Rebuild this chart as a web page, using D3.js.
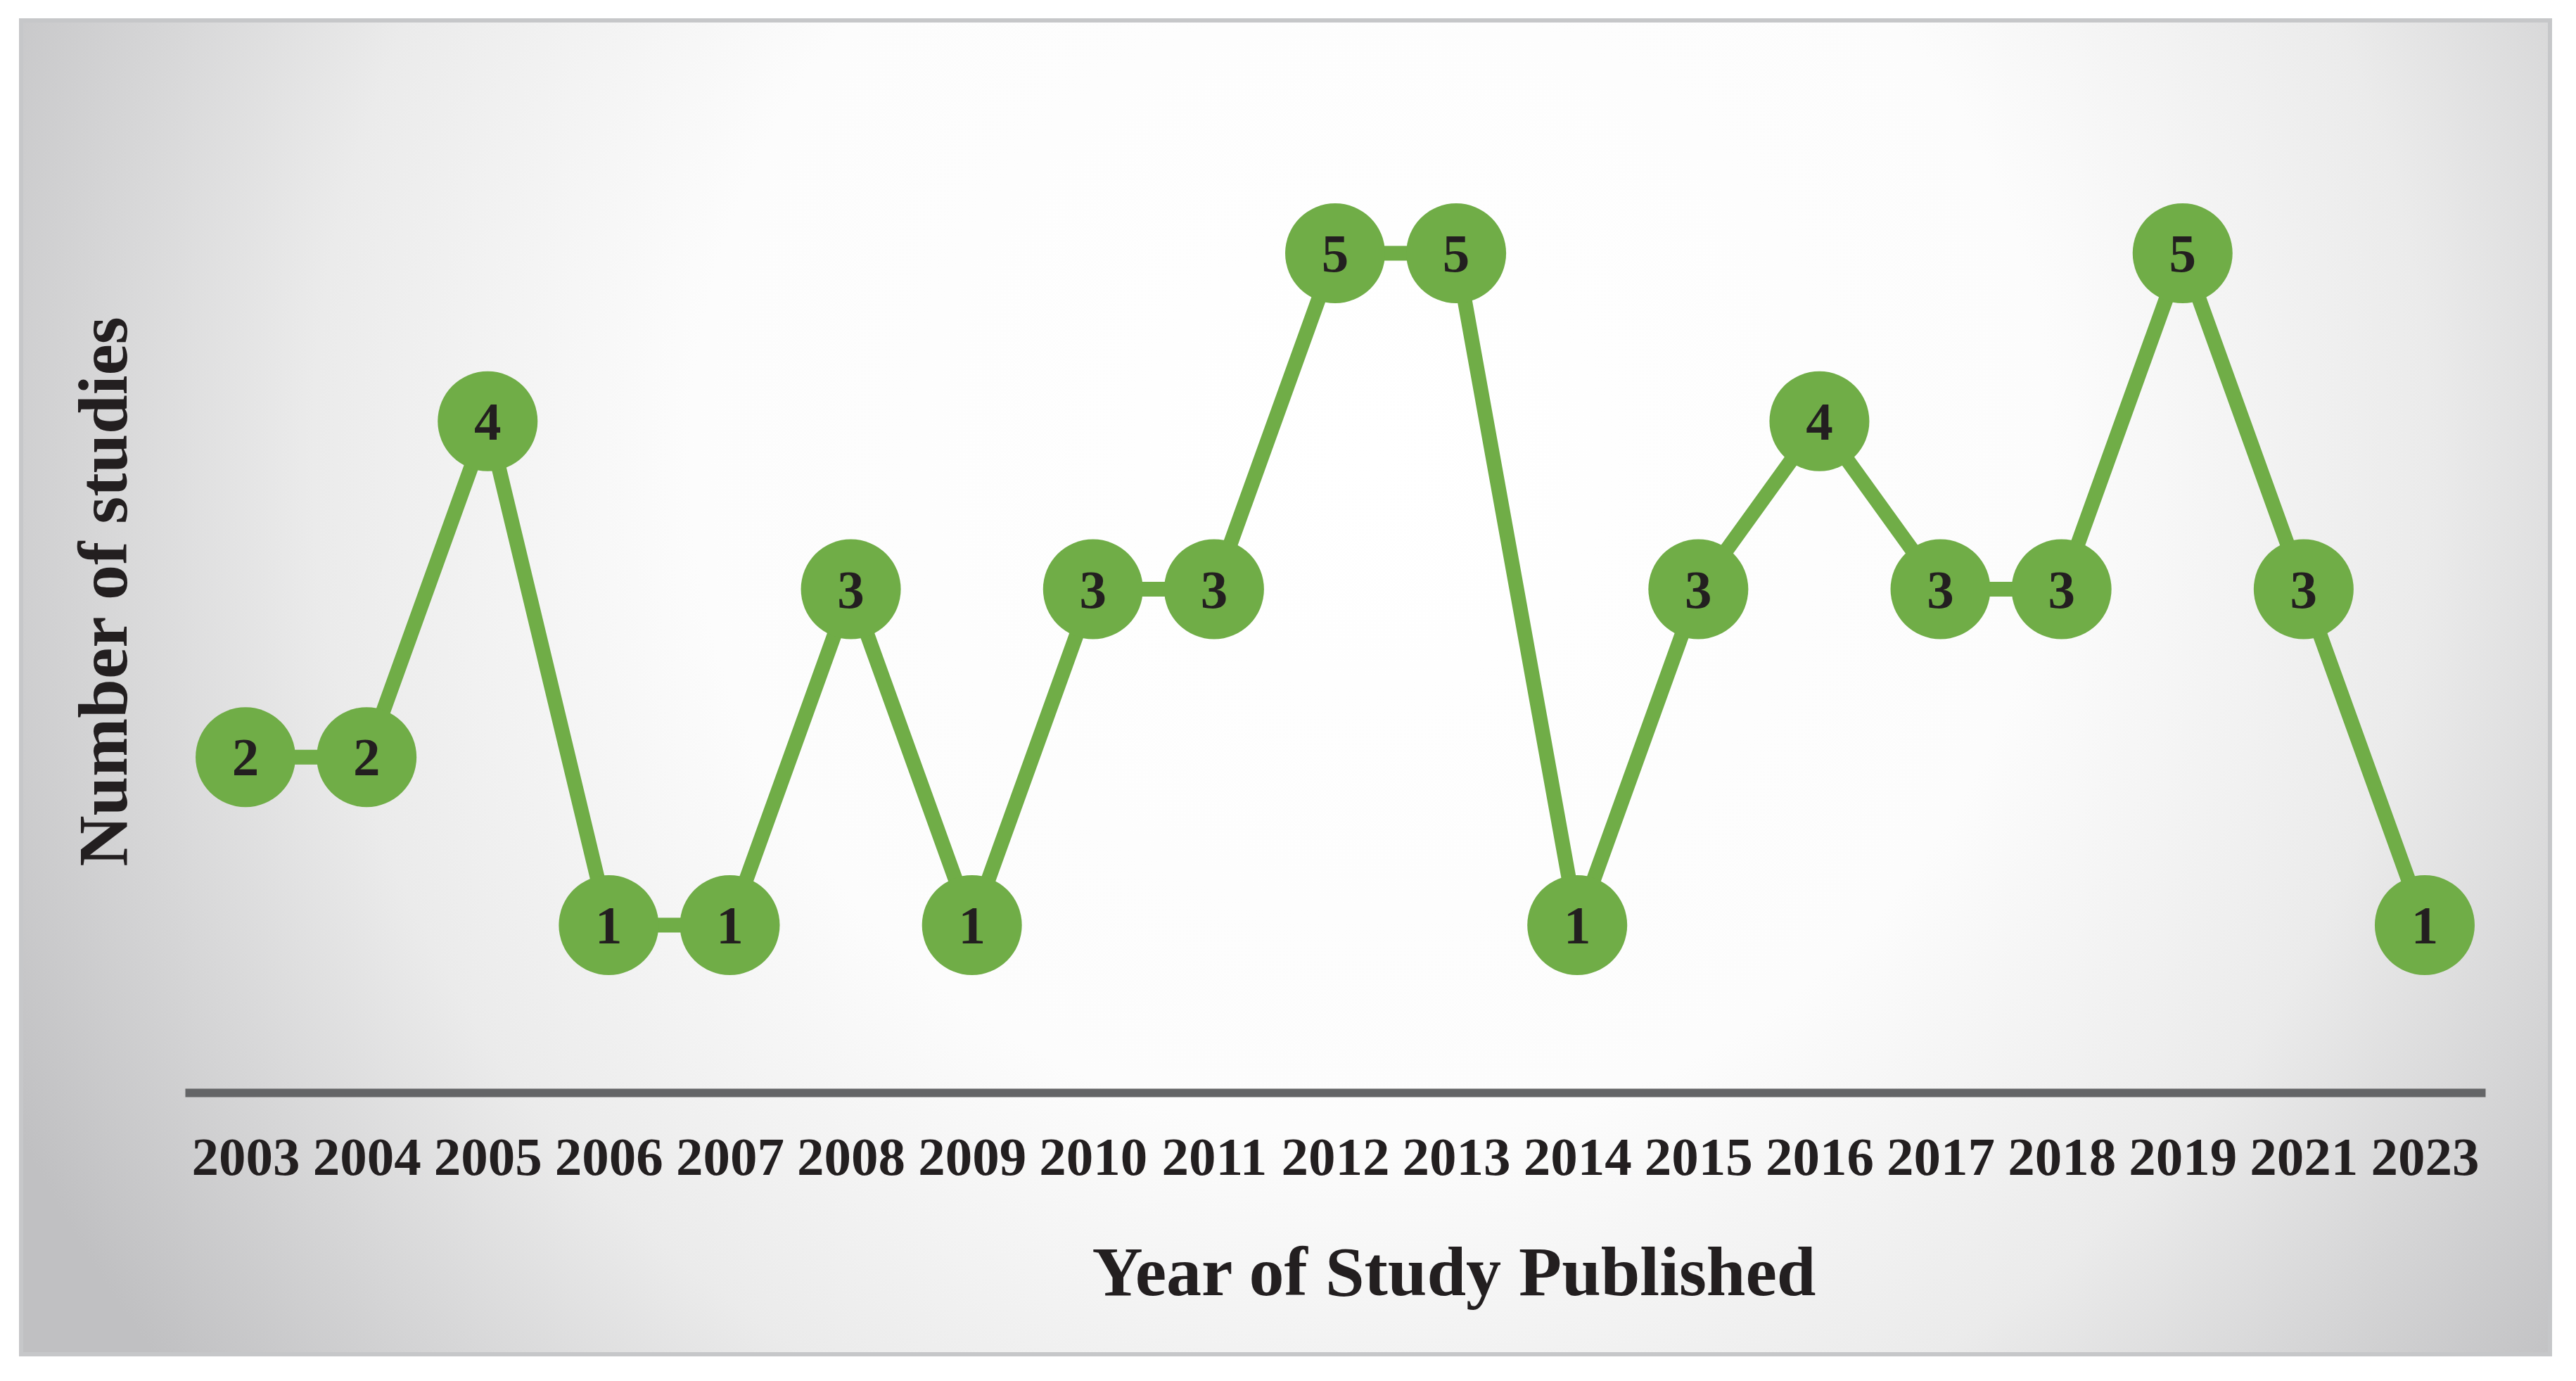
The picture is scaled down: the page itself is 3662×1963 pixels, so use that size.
<!DOCTYPE html>
<html>
<head>
<meta charset="utf-8">
<script src="https://cdn.jsdelivr.net/npm/d3@7"></script>
<style>
  body { margin: 0; background: #fff; }
  text { font-family: "Liberation Serif", "Times New Roman", serif; font-weight: bold; fill: #231f20; }
</style>
</head>
<body>
<div id="chart"></div>
<script>
// data
const years = ["2003","2004","2005","2006","2007","2008","2009","2010","2011","2012","2013","2014","2015","2016","2017","2018","2019","2021","2023"];
const counts = [2,2,4,1,1,3,1,3,3,5,5,1,3,4,3,3,5,3,1];
const xTitle = "Year of Study Published";
const yTitle = "Number of studies";

let width = 3662, height = 1963;
let green = "#70ad47";

let svg = d3.select("#chart")
  .append("svg")
    .attr("width", width)
    .attr("height", height);

// background: light radial gradient inside a grey frame
let grad = svg.append("defs").append("radialGradient")
  .attr("id", "bg")
  .attr("gradientUnits", "userSpaceOnUse")
  .attr("cx", 1950).attr("cy", 650).attr("r", 2150);
grad.append("stop").attr("offset", 0).attr("stop-color", "#ffffff");
grad.append("stop").attr("offset", 0.45).attr("stop-color", "#fcfcfc");
grad.append("stop").attr("offset", 0.7).attr("stop-color", "#ebebeb");
grad.append("stop").attr("offset", 1).attr("stop-color", "#c0c0c2");

svg.append("rect")
  .attr("x", 30).attr("y", 29)
  .attr("width", 3595).attr("height", 1896)
  .attr("fill", "url(#bg)")
  .attr("stroke", "#c6c7c9")
  .attr("stroke-width", 6);

// scales
let x = d3.scalePoint()
  .domain(years)
  .range([263, 3533])
  .padding(0.5);

let y = d3.scaleLinear()
  .domain([1, 5])
  .range([1315, 360]);

// x axis: thick grey baseline with bold year labels
let xAxis = svg.append("g")
  .attr("transform", "translate(0,1553)")
  .call(d3.axisBottom(x).tickSize(0).tickSizeOuter(0));

xAxis.select(".domain")
  .attr("stroke", "#646567")
  .attr("stroke-width", 12);

xAxis.selectAll("text")
  .attr("y", 117)
  .attr("dy", null)
  .attr("font-size", "77px")
  .attr("font-family", "Liberation Serif, Times New Roman, serif")
  .attr("font-weight", "bold")
  .attr("fill", "#231f20");

// connecting line
let line = d3.line()
  .x(function(d, i) { return x(years[i]); })
  .y(function(d) { return y(d); });

svg.append("path")
  .datum(counts)
  .attr("d", line)
  .attr("fill", "none")
  .attr("stroke", green)
  .attr("stroke-width", 21);

// circles with counts
let nodes = svg.selectAll(".node")
  .data(counts)
  .enter()
  .append("g")
    .attr("class", "node")
    .attr("transform", function(d, i) { return "translate(" + x(years[i]) + "," + y(d) + ")"; });

nodes.append("circle")
  .attr("r", 71)
  .attr("fill", green);

nodes.append("text")
  .attr("text-anchor", "middle")
  .attr("dy", "0.34em")
  .attr("font-size", "77px")
  .text(function(d) { return d; });

// axis titles
svg.append("text")
  .attr("x", 2067)
  .attr("y", 1841)
  .attr("text-anchor", "middle")
  .attr("font-size", "100px")
  .text(xTitle);

svg.append("text")
  .attr("transform", "translate(180,841) rotate(-90)")
  .attr("text-anchor", "middle")
  .attr("font-size", "100px")
  .text(yTitle);
</script>
</body>
</html>
